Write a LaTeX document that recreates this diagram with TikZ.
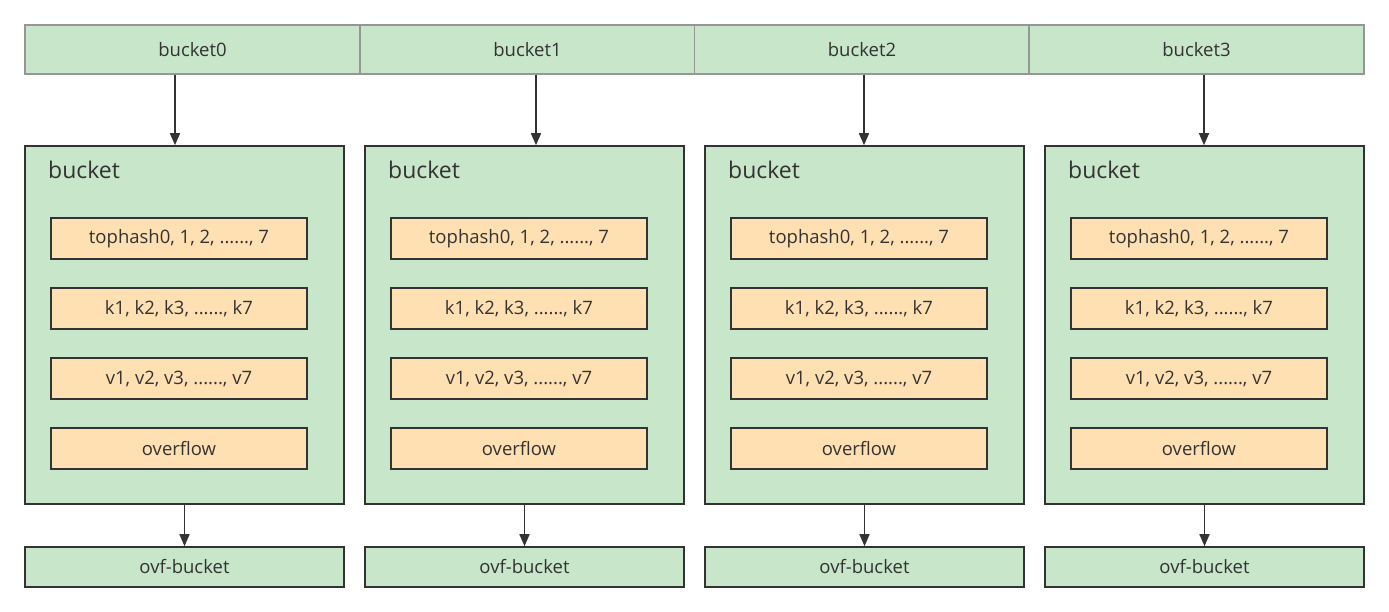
\documentclass[tikz,border=0pt]{standalone}
\usepackage{fontspec}
\setmainfont{Open Sans}
\usetikzlibrary{arrows.meta}
\definecolor{mint}{RGB}{200, 230, 201}
\definecolor{peach}{RGB}{255, 224, 178}
\definecolor{ink}{RGB}{51, 51, 51}
\definecolor{rim}{RGB}{150, 150, 150}

% slot texts (kept out of \foreach, whose list would read the dots as a range)
\newcommand\slottext[1]{\ifcase#1\or tophash0, 1, 2, ......, 7\or
    k1, k2, k3, ......, k7\or v1, v2, v3, ......, v7\or overflow\fi}

\begin{document}
\begin{tikzpicture}[x=1pt, y=-1pt,
        cell/.style={draw=rim, line width=1.2pt, fill=mint, inner sep=0pt,
                     minimum width=335pt, minimum height=49pt, text=ink,
                     font=\fontsize{18.5}{22}\selectfont},
        bucketbox/.style={draw=ink, line width=1.6pt, fill=mint, inner sep=0pt,
                     minimum width=319pt, minimum height=358pt},
        slot/.style={draw=ink, line width=1.6pt, fill=peach, inner sep=0pt,
                     minimum width=256pt, minimum height=41pt, text=ink,
                     font=\fontsize{18.5}{22}\selectfont},
        ovfbox/.style={draw=ink, line width=1.6pt, fill=mint, inner sep=0pt,
                     minimum width=319pt, minimum height=40pt, text=ink,
                     font=\fontsize{18.5}{22}\selectfont},
        heading/.style={anchor=west, inner sep=0pt, text=ink,
                     font=\fontsize{23}{27}\selectfont},
        arr/.style={draw=ink, line width=1.6pt,
                    -{Triangle[length=12pt, width=10pt]}}]

        \useasboundingbox (0,0) rectangle (1389,612);

        % the array of buckets on top, one cell each
        \foreach \i / \cx in {0/192.5, 1/527.5, 2/862, 3/1196.5} {
            \node[cell] (cell\i) at (\cx, 49.5) {bucket\i};
        }

        % each bucket with its four slots and its overflow bucket
        \foreach \i in {0, 1, 2, 3} {
            \node[bucketbox] (box\i) at (184.5 + 340*\i, 325) {};
            \node[heading] (title\i) at (48 + 340*\i, 170) {bucket};

            \foreach \r in {1, 2, 3, 4} {
                \node[slot] (slot\i\r) at (179 + 340*\i, 168.5 + 70*\r) {\slottext{\r}};
            }

            \node[ovfbox] (ovf\i) at (184.5 + 340*\i, 567) {ovf-bucket};
            \draw[arr] (box\i.south) -- (ovf\i.north);
        }

        % arrows from the array down to the buckets (not quite centred)
        \foreach \i / \ax in {0/175, 1/536, 2/864, 3/1204} {
            \draw[arr] (cell\i.south -| \ax, 0) -- (box\i.north -| \ax, 0);
        }
\end{tikzpicture}
\end{document}
